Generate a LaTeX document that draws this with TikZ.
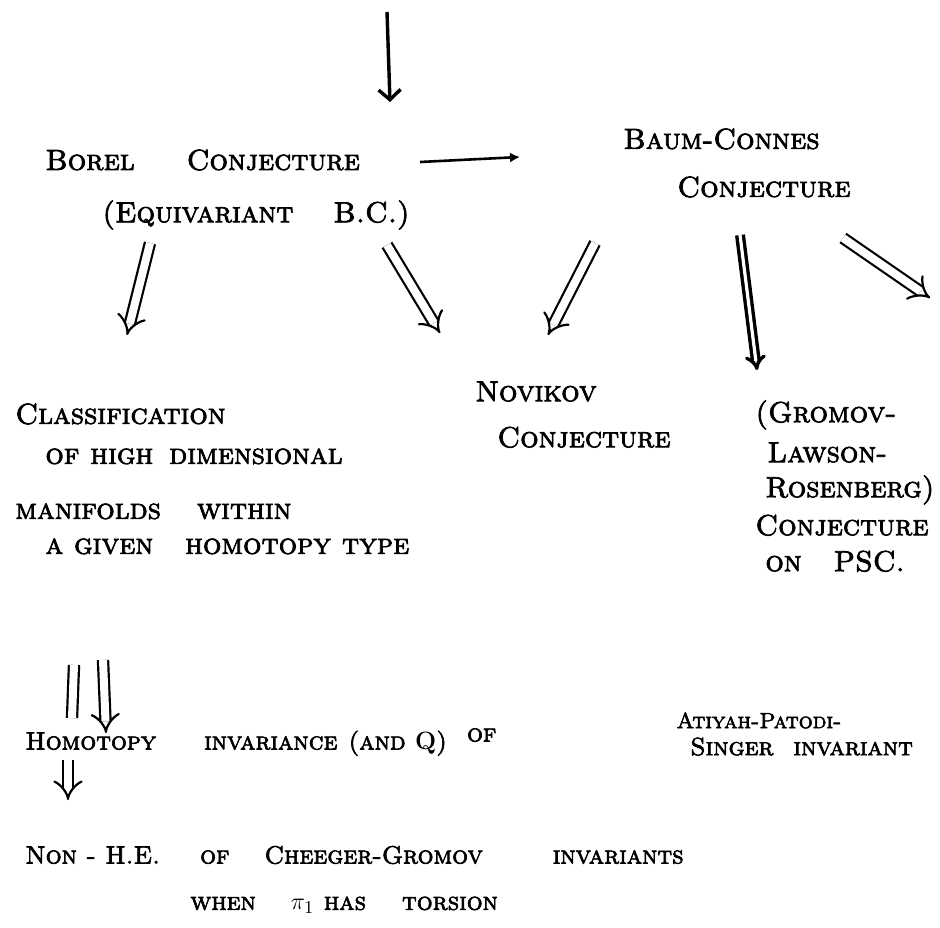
\documentclass[tikz,border=0pt]{standalone}
\usepackage{fontspec}
\newfontfamily\hand{lmroman10-regular.otf}[FakeBold=2.6,SmallCapsFont=lmromancaps10-regular.otf,SmallCapsFeatures={FakeBold=2.6}]
\usetikzlibrary{arrows.meta}
\begin{document}
\begin{tikzpicture}[x=0.5pt,y=-0.5pt,
	every node/.style={font=\hand\fontsize{14.5}{19}\selectfont\scshape,inner sep=0,align=left},
	smaller/.style={font=\hand\fontsize{12.5}{15}\selectfont\scshape},
	hollow/.style={double,double distance=4pt,line width=1.1pt,-{Implies}},
	heavy/.style={double,double distance=1.6pt,line width=1.7pt,-{Implies}},
	single/.style={line width=1.7pt,-{Straight Barb[length=5pt,width=11pt,line width=1.7pt]}}]
\useasboundingbox (0,0) rectangle (940,927);
\node[anchor=west] (borel) at (45,160) {Borel\hspace{26pt}Conjecture};
\node[anchor=west] (equiv) at (102,215) {(Equivariant\hspace{20pt}B.C.)};
\node[anchor=north west] (baum) at (623,128) {Baum-Connes\\[5pt]\hspace*{27pt}Conjecture};
\node[anchor=north west] (class) at (15,403) {Classification\\[1pt]\hspace*{15pt}of high\hspace{8pt}dimensional\\[8.5pt]manifolds\hspace{18pt}within\\[-1.5pt]\hspace*{15pt}a given\hspace{16pt}homotopy type};
\node[anchor=north west] (novikov) at (475,381) {Novikov\\[4pt]\hspace*{11pt}Conjecture};
\node[anchor=north west] (glr) at (755,400) {(Gromov-\\[1pt]\hspace*{6pt}Lawson-\\[-1.5pt]\hspace*{5pt}Rosenberg)\\Conjecture\\[-1pt]\hspace*{5pt}on\hspace{16pt}PSC.};
\node[anchor=west,smaller] (homotopy) at (25,742) {Homotopy\hspace{24pt}invariance\hspace{5.5pt}(and {\rmfamily\upshape\bfseries Q})\hspace{10pt}\raisebox{4pt}{of}};
\node[anchor=north west,font=\hand\fontsize{11}{12.5}\selectfont\scshape] (aps) at (676,712) {Atiyah-Patodi-\\[1pt]\hspace*{7pt}{\fontsize{12.5}{12.5}\selectfont Singer\hspace{10pt}invariant}};
\node[anchor=west,smaller] (nonhe) at (25,855) {Non - H.E.\hspace{20pt}of\hspace{17.5pt}Cheeger-Gromov\hspace{35pt}invariants};
\node[anchor=west,smaller] (torsion) at (190,905) {when\hspace{17.5pt}$\pi_1$ has\hspace{18pt}torsion};
\coordinate (top) at (387,12);
\coordinate (off) at (930,298);
\draw[single] (top) -- ([shift={(345,-58)}]borel.west);
\draw[-{Latex[length=5pt,width=5pt]},line width=1.3pt] ([shift={(375,2)}]borel.west) -- ([shift={(-103,29)}]baum.north west);
\draw[hollow] ([shift={(48,28)}]equiv.west) -- ([shift={(112,-68)}]class.north west);
\draw[hollow] ([shift={(285,30)}]equiv.west) -- ([shift={(-35,-48)}]novikov.north west);
\draw[hollow] ([shift={(-28,115)}]baum.north west) -- ([shift={(73,-46)}]novikov.north west);
\draw[heavy] ([shift={(117,107)}]baum.north west) -- ([shift={(2,-30)}]glr.north west);
\draw[hollow] ([shift={(220,110)}]baum.north west) -- (off);
\draw[double,double distance=4pt,line width=1.1pt] ([shift={(59,262)}]class.north west) -- ([shift={(47,-24)}]homotopy.west);
\draw[hollow] ([shift={(88,257)}]class.north west) -- ([shift={(81,-9)}]homotopy.west);
\draw[hollow] ([shift={(43,18)}]homotopy.west) -- ([shift={(43,-55)}]nonhe.west);
\end{tikzpicture}
\end{document}
